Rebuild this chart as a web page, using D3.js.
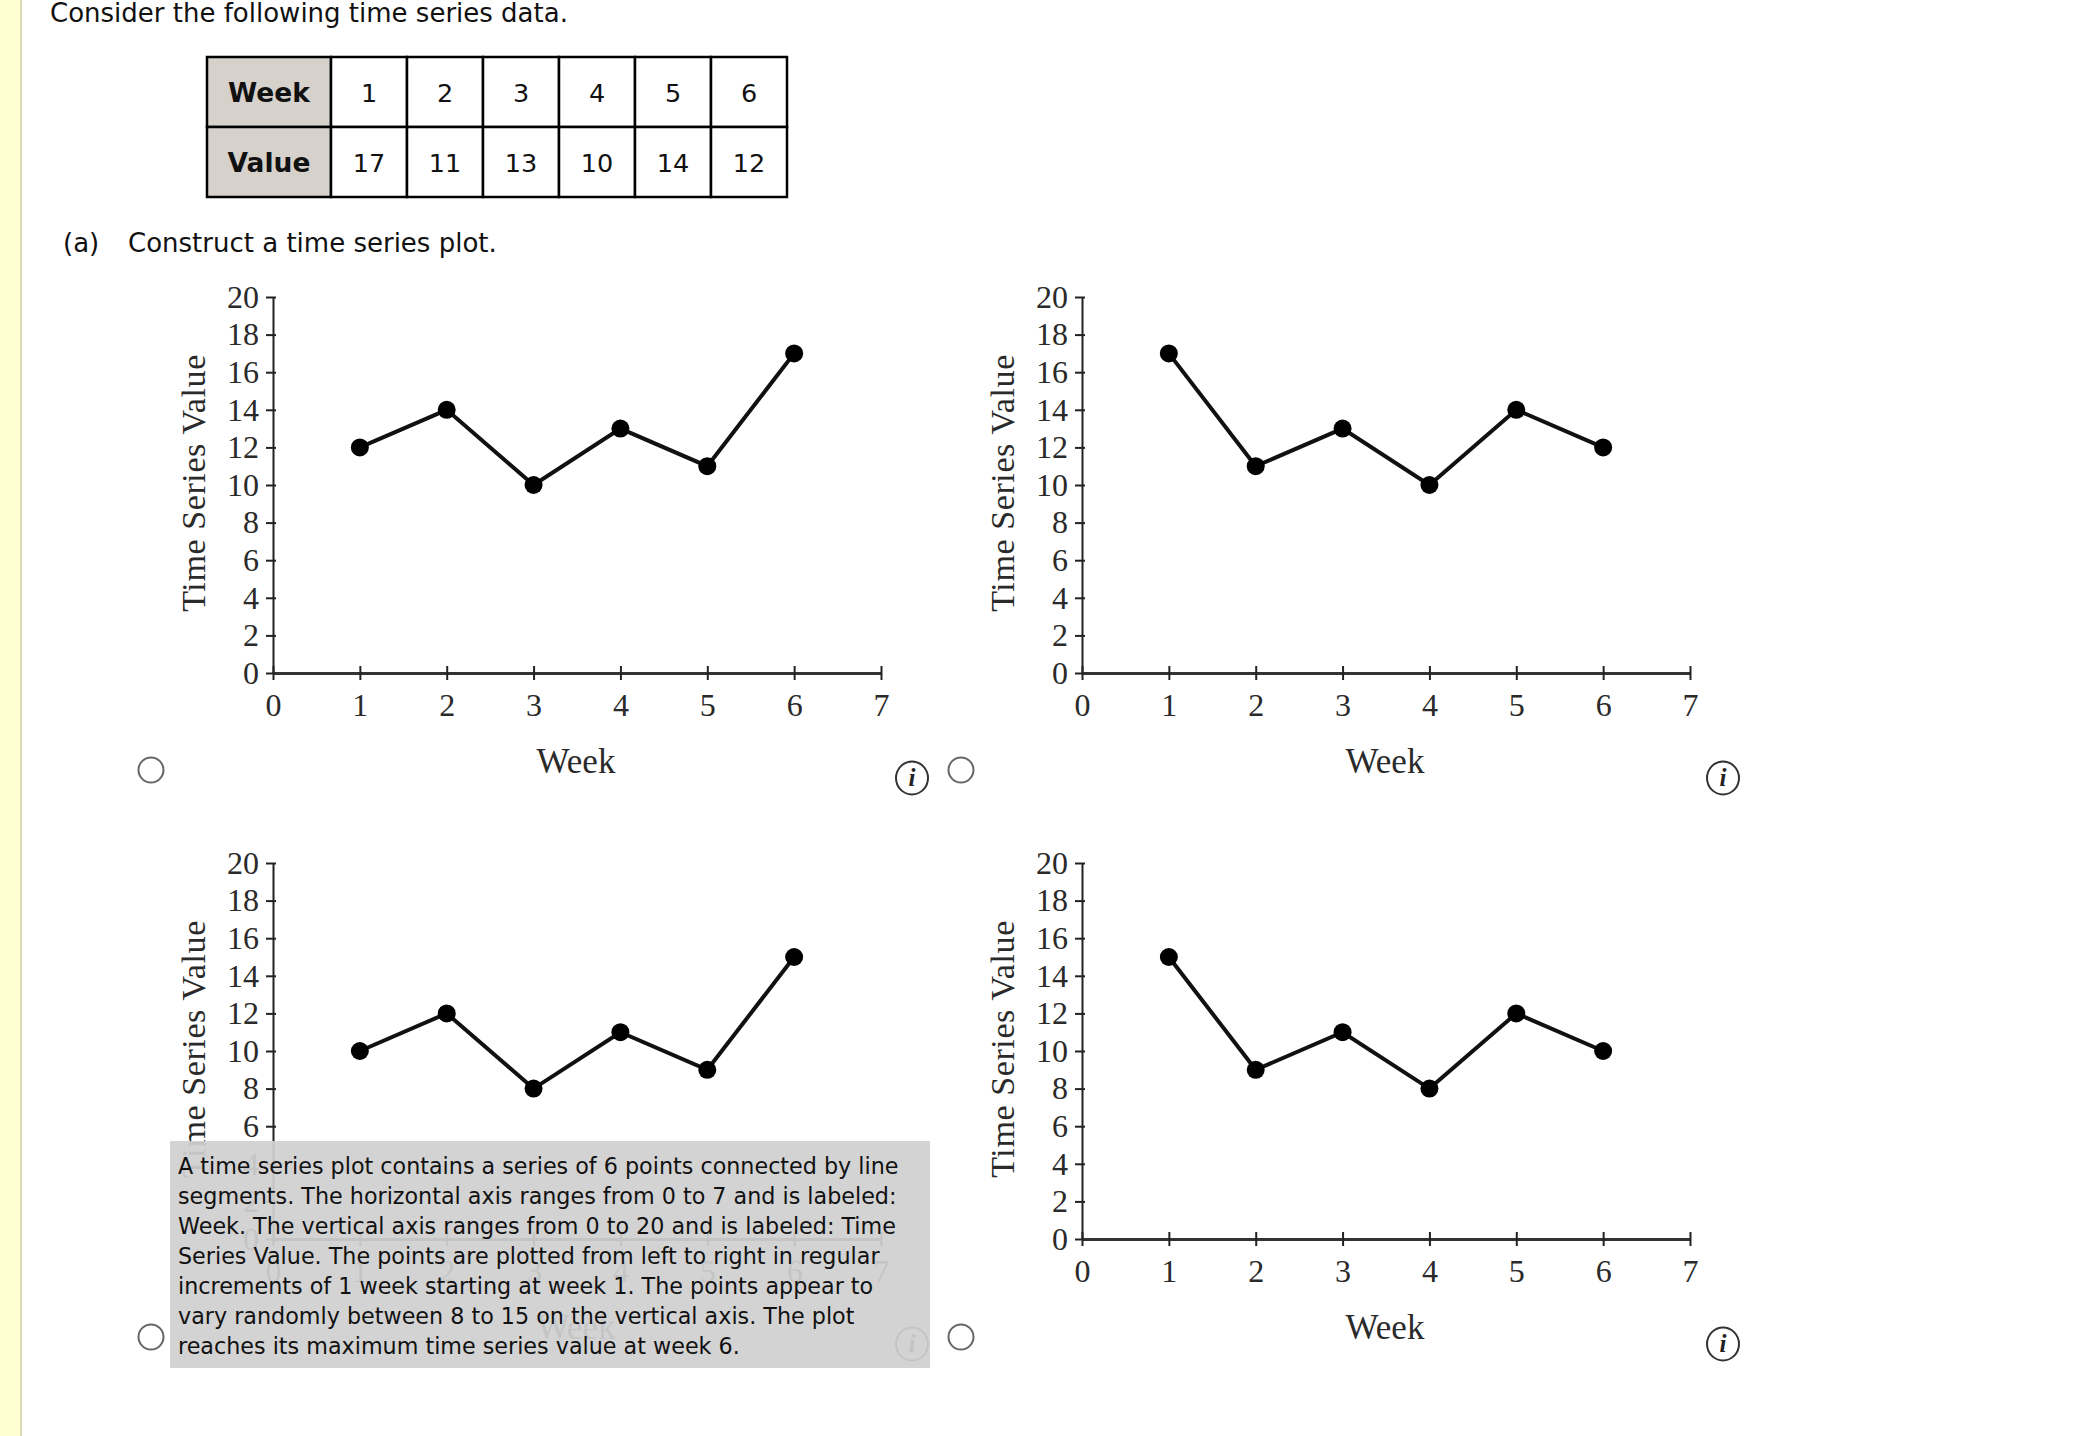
<!DOCTYPE html>
<html><head><meta charset="utf-8">
<script src="https://cdn.jsdelivr.net/npm/d3@7"></script>
<style>
html,body{margin:0;padding:0;background:#fff;overflow:hidden}
svg{display:block}
.sans{font-family:"DejaVu Sans",Verdana,sans-serif;fill:#111}
.serif{font-family:"Liberation Serif",serif;fill:#2a2a2a}
</style></head><body>
<svg id="c" width="2098" height="1436"></svg>
<script>
const weeks=[1,2,3,4,5,6];
const tableValues=[17,11,13,10,14,12];
const seriesA=[12,14,10,13,11,17];
const seriesB=[17,11,13,10,14,12];
const seriesC=[10,12,8,11,9,15];
const seriesD=[15,9,11,8,12,10];
const xTicks=[0,1,2,3,4,5,6,7];
const yTicks=[0,2,4,6,8,10,12,14,16,18,20];
const noteLines=["A time series plot contains a series of 6 points connected by line","segments. The horizontal axis ranges from 0 to 7 and is labeled:","Week. The vertical axis ranges from 0 to 20 and is labeled: Time","Series Value. The points are plotted from left to right in regular","increments of 1 week starting at week 1. The points appear to","vary randomly between 8 to 15 on the vertical axis. The plot","reaches its maximum time series value at week 6."];

const svg=d3.select("#c");
svg.append("rect").attr("x",0).attr("y",0).attr("width",20).attr("height",1436).attr("fill","#ffffd2");
svg.append("rect").attr("x",20).attr("y",0).attr("width",2).attr("height",1436).attr("fill","#dedcb4");

svg.append("text").attr("class","sans").attr("x",50).attr("y",22).attr("font-size",26).text("Consider the following time series data.");
svg.append("text").attr("class","sans").attr("x",63).attr("y",252).attr("font-size",26).text("(a)");
svg.append("text").attr("class","sans").attr("x",128).attr("y",252).attr("font-size",26).text("Construct a time series plot.");

const tx=d3.scaleBand().domain(weeks).range([331,787]);
const rowY=d3.scaleBand().domain(["Week","Value"]).range([57,197]);
const t=svg.append("g");
rowY.domain().forEach((r,ri)=>{
  t.append("rect").attr("x",207).attr("y",rowY(r)).attr("width",124).attr("height",rowY.bandwidth()).attr("fill","#d6d2cb").attr("stroke","#000").attr("stroke-width",2.5);
  t.append("text").attr("class","sans").attr("x",269).attr("y",rowY(r)+rowY.bandwidth()/2+10).attr("text-anchor","middle").attr("font-size",26.5).attr("font-weight","bold").text(r);
  weeks.forEach((w,i)=>{
    t.append("rect").attr("x",tx(w)).attr("y",rowY(r)).attr("width",tx.bandwidth()).attr("height",rowY.bandwidth()).attr("fill","#fff").attr("stroke","#000").attr("stroke-width",2.5);
    t.append("text").attr("class","sans").attr("x",tx(w)+tx.bandwidth()/2).attr("y",rowY(r)+rowY.bandwidth()/2+10).attr("text-anchor","middle").attr("font-size",25.5).text(ri===0?w:tableValues[i]);
  });
});

function chart(x0,yTop,values){
  const x=d3.scaleLinear().domain([0,7]).range([x0,x0+608]);
  const y=d3.scaleLinear().domain([0,20]).range([yTop+376,yTop]);
  const g=svg.append("g");
  const ya=g.append("g").attr("transform",`translate(${x0},0)`).call(d3.axisLeft(y).tickValues(yTicks).tickSize(7).tickPadding(7).tickSizeOuter(0));
  const xa=g.append("g").attr("transform",`translate(0,${yTop+376})`).call(d3.axisBottom(x).tickValues(xTicks).tickFormat(d3.format("d")).tickSize(7).tickPadding(13).tickSizeOuter(0));
  ya.select(".domain").attr("stroke","#222").attr("stroke-width",2);
  xa.select(".domain").attr("stroke","#333").attr("stroke-width",3);
  ya.selectAll(".tick line").attr("x2",-7).attr("x1",3).attr("stroke","#222").attr("stroke-width",2);
  xa.selectAll(".tick line").attr("y1",-7).attr("y2",7).attr("stroke","#222").attr("stroke-width",2);
  g.selectAll(".tick text").attr("font-family","Liberation Serif").attr("font-size",32).attr("fill","#2a2a2a");
  const line=d3.line().x((d,i)=>x(weeks[i])).y(d=>y(d));
  g.append("path").attr("d",line(values)).attr("fill","none").attr("stroke","#111").attr("stroke-width",4);
  g.selectAll("circle").data(values).join("circle").attr("cx",(d,i)=>x(weeks[i])).attr("cy",d=>y(d)).attr("r",9).attr("fill","#000");
  g.append("text").attr("class","serif").attr("x",x0+303).attr("y",yTop+476).attr("text-anchor","middle").attr("font-size",35).text("Week");
  g.append("text").attr("class","serif").attr("transform",`translate(${x0-68},${yTop+186}) rotate(-90)`).attr("text-anchor","middle").attr("font-size",34).attr("letter-spacing",0.6).text("Time Series Value");
}
chart(273,297,seriesA);
chart(1082,297,seriesB);
chart(273,863,seriesC);
chart(1082,863,seriesD);

function radio(cx,cy){svg.append("circle").attr("cx",cx).attr("cy",cy).attr("r",12.5).attr("fill","#fff").attr("stroke","#666").attr("stroke-width",2);}
function info(cx,cy){
  svg.append("ellipse").attr("cx",cx).attr("cy",cy).attr("rx",16).attr("ry",16.5).attr("fill","#fff").attr("stroke","#333").attr("stroke-width",2);
  svg.append("text").attr("x",cx).attr("y",cy+8).attr("text-anchor","middle").attr("font-family","Liberation Serif").attr("font-style","italic").attr("font-weight","bold").attr("font-size",25).attr("fill","#222").text("i");
}
[[151,770],[961,770],[151,1337],[961,1337]].forEach(p=>radio(p[0],p[1]));
[[912,778],[1723,778],[912,1344],[1723,1344]].forEach(p=>info(p[0],p[1]));

svg.append("rect").attr("x",170).attr("y",1141).attr("width",760).attr("height",227).attr("fill","#d0d0d0").attr("fill-opacity",0.93);
svg.append("g").selectAll("text").data(noteLines).join("text").attr("class","sans").attr("x",178).attr("y",(d,i)=>1174+i*30.05).attr("font-size",22.25).text(d=>d);
</script></body></html>
